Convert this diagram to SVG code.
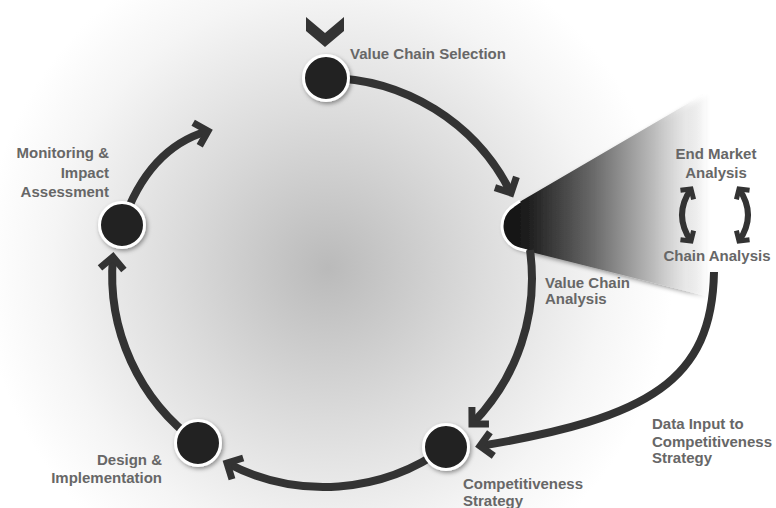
<svg xmlns="http://www.w3.org/2000/svg" width="776" height="508" viewBox="0 0 776 508">
  <defs>
    <radialGradient id="bg" cx="328" cy="268" r="345" gradientUnits="userSpaceOnUse">
      <stop offset="0" stop-color="#bababa"/>
      <stop offset="0.45" stop-color="#dcdcdc"/>
      <stop offset="0.8" stop-color="#f5f5f5"/>
      <stop offset="1" stop-color="#ffffff"/>
    </radialGradient>
    <linearGradient id="cone" x1="502" y1="0" x2="706" y2="0" gradientUnits="userSpaceOnUse">
      <stop offset="0" stop-color="#111111"/>
      <stop offset="0.12" stop-color="#1c1c1c"/>
      <stop offset="0.45" stop-color="#6a6a6a"/>
      <stop offset="0.75" stop-color="#bdbdbd"/>
      <stop offset="0.9" stop-color="#ececec" stop-opacity="0.8"/>
      <stop offset="1" stop-color="#ffffff" stop-opacity="0"/>
    </linearGradient>
    <filter id="shadow" x="-40%" y="-40%" width="180%" height="180%">
      <feDropShadow dx="1.5" dy="2" stdDeviation="2" flood-color="#000" flood-opacity="0.4"/>
    </filter>
    <marker id="head" markerUnits="userSpaceOnUse" viewBox="-20 -20 30 40" refX="0" refY="0" markerWidth="30" markerHeight="40" orient="auto" overflow="visible">
      <path d="M-12,-12 L0,0 L-12,12" fill="none" stroke="#333" stroke-width="7" stroke-linejoin="miter" stroke-miterlimit="10"/>
    </marker>
    <marker id="headS" markerUnits="userSpaceOnUse" viewBox="-12 -12 18 24" refX="0" refY="0" markerWidth="18" markerHeight="24" orient="auto-start-reverse" overflow="visible">
      <path d="M-7,-8 L0,0 L-7,8" fill="none" stroke="#333" stroke-width="5" stroke-linejoin="miter" stroke-miterlimit="10"/>
    </marker>
    <style>
      .lbl { font-family: "Liberation Sans", Arial, sans-serif; font-weight: bold; font-size: 15px; fill: #676767; }
      .end { text-anchor: end; }
      .mid { text-anchor: middle; }
      .node { fill: #222; stroke: #fff; stroke-width: 3; filter: url(#shadow); }
      .conn { fill: none; stroke: #333; stroke-width: 8; marker-end: url(#head); }
      .small { fill: none; stroke: #333; stroke-width: 6; marker-start: url(#headS); marker-end: url(#headS); }
    </style>
  </defs>

  <!-- background glow -->
  <rect width="776" height="508" fill="url(#bg)"/>

  <!-- analysis node: rounded tip widening into a fading cone -->
  <g id="value-chain-analysis">
    <path d="M706,93 L513.4,205.6 A24 24 0 0 0 520.2,249.3 L706,296 Z" fill="url(#cone)" filter="url(#shadow)"/>
    <path d="M520,201 L513.4,205.6 A24 24 0 0 0 520.2,249.3 L527,251" fill="none" stroke="#fff" stroke-width="3"/>
    <text class="lbl" x="545" y="288">Value Chain</text>
    <text class="lbl" x="545" y="304">Analysis</text>
  </g>

  <!-- connectors -->
  <g id="connectors">
    <path class="conn" d="M326,78 A207 207 0 0 1 511,193"/>
    <path class="conn" d="M530,250 A207 207 0 0 1 472,424"/>
    <path class="conn" d="M446,447 A207 207 0 0 1 227,463"/>
    <path class="conn" d="M198,443 A207 207 0 0 1 113,257"/>
    <path class="conn" d="M122,225 Q148,148 208,131"/>
    <path class="conn" d="M714,272 C712,380 650,418 480,446"/>
    <path class="small" d="M691,189 Q673,215 691,241"/>
    <path class="small" d="M739,189 Q757,215 739,241"/>
  </g>

  <!-- entry chevron -->
  <g id="entry">
    <path d="M306,17 L325,33 L344,17 L344,31 L325,47 L306,31 Z" fill="#333"/>
  </g>

  <g id="value-chain-selection">
    <circle class="node" cx="326" cy="78" r="22.5"/>
    <text class="lbl" x="350" y="58.5">Value Chain Selection</text>
  </g>

  <g id="end-market-analysis">
    <text class="lbl mid" x="716" y="159">End Market</text>
    <text class="lbl mid" x="716" y="178">Analysis</text>
  </g>

  <g id="chain-analysis">
    <text class="lbl mid" x="717" y="261">Chain Analysis</text>
  </g>

  <g id="competitiveness-strategy">
    <circle class="node" cx="446" cy="447" r="22.5"/>
    <text class="lbl" x="463" y="489">Competitiveness</text>
    <text class="lbl" x="463" y="506">Strategy</text>
  </g>

  <g id="data-input">
    <text class="lbl" x="652" y="429">Data Input to</text>
    <text class="lbl" x="652" y="446.5">Competitiveness</text>
    <text class="lbl" x="652" y="463">Strategy</text>
  </g>

  <g id="design-implementation">
    <circle class="node" cx="198" cy="443" r="22.5"/>
    <text class="lbl end" x="162" y="465">Design &amp;</text>
    <text class="lbl end" x="162" y="483">Implementation</text>
  </g>

  <g id="monitoring-impact">
    <circle class="node" cx="122" cy="225" r="22.5"/>
    <text class="lbl end" x="109" y="158">Monitoring &amp;</text>
    <text class="lbl end" x="109" y="177.5">Impact</text>
    <text class="lbl end" x="109" y="196.5">Assessment</text>
  </g>
</svg>
